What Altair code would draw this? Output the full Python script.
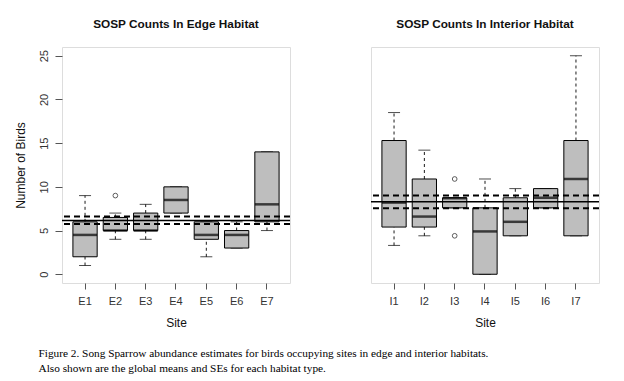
import altair as alt
import pandas as pd

# ---- Edge habitat data ----
edge_sites = ["E1", "E2", "E3", "E4", "E5", "E6", "E7"]
edge_low = [1, 4, 4, 7, 2, 3, 5]
edge_q1 = [2, 5, 5, 7, 4, 3, 6]
edge_med = [4.5, 5, 5, 8.5, 4.5, 4.5, 8]
edge_q3 = [6, 6.5, 7, 10, 6, 5, 14]
edge_high = [9, 7, 8, 10, 6, 6, 14]
edge_out_site = ["E2"]
edge_out_val = [9]
edge_mean = [6.15]
edge_se = [5.76, 6.6]

# ---- Interior habitat data ----
int_sites = ["I1", "I2", "I3", "I4", "I5", "I6", "I7"]
int_low = [3.3, 4.4, 7.6, 0, 4.4, 7.6, 4.4]
int_q1 = [5.4, 5.4, 7.6, 0, 4.4, 7.6, 4.4]
int_med = [8.2, 6.6, 8.7, 4.9, 6.0, 8.75, 10.9]
int_q3 = [15.3, 10.9, 8.75, 7.6, 8.75, 9.8, 15.3]
int_high = [18.5, 14.2, 8.75, 10.9, 9.8, 9.8, 25]
int_out_site = ["I3", "I3"]
int_out_val = [10.9, 4.4]
int_mean = [8.3]
int_se = [7.56, 9.0]

caption = [
    "Figure 2. Song Sparrow abundance estimates for birds occupying sites in edge and interior habitats.",
    "Also shown are the global means and SEs for each habitat type.",
]

FRAME = "#555555"
SANS = "Liberation Sans"


def panel(sites, low, q1, med, q3, high, out_site, out_val, mean, se, title, show_y):
    df = pd.DataFrame({"site": sites, "low": low, "q1": q1, "med": med, "q3": q3, "high": high})
    odf = pd.DataFrame({"site": out_site, "val": out_val})
    mdf = pd.DataFrame({"v": mean})
    sdf = pd.DataFrame({"v": se})

    yscale = alt.Scale(domain=[-1, 26], nice=False, zero=False)
    if show_y:
        yaxis = alt.Axis(
            values=[0, 5, 10, 15, 20, 25], title="Number of Birds", grid=False,
            labelAngle=-90, labelAlign="center", labelBaseline="bottom",
            tickSize=7, labelPadding=6, titlePadding=11, domain=False,
            tickColor=FRAME, labelColor="#333333", labelFontSize=11,
            titleFontSize=12, titleFontWeight="normal", titleColor="#111111",
            labelFont=SANS, titleFont=SANS,
        )
    else:
        yaxis = None
    xaxis = alt.Axis(
        title="Site", labelAngle=0, tickSize=6, labelPadding=6, titlePadding=11,
        domain=False, tickColor=FRAME, labelColor="#333333", labelFontSize=11,
        titleFontSize=12, titleFontWeight="normal", titleColor="#111111",
        labelFont=SANS, titleFont=SANS,
    )
    x = alt.X("site:N", sort=sites, scale=alt.Scale(paddingInner=0.2, paddingOuter=0.36), axis=xaxis)

    base = alt.Chart(df).encode(x=x)
    whisk_hi = base.mark_rule(color="black", strokeDash=[3, 3], strokeWidth=0.9).encode(
        y=alt.Y("q3:Q", scale=yscale, axis=yaxis), y2="high:Q")
    whisk_lo = base.mark_rule(color="black", strokeDash=[3, 3], strokeWidth=0.9).encode(
        y=alt.Y("low:Q", scale=yscale, axis=yaxis), y2="q1:Q")
    cap_hi = base.mark_tick(color="black", size=12, thickness=1).encode(
        y=alt.Y("high:Q", scale=yscale, axis=yaxis))
    cap_lo = base.mark_tick(color="black", size=12, thickness=1).encode(
        y=alt.Y("low:Q", scale=yscale, axis=yaxis))
    box = base.mark_bar(fill="#bebebe", stroke="black", strokeWidth=1).encode(
        y=alt.Y("q1:Q", scale=yscale, axis=yaxis), y2="q3:Q")
    medline = base.mark_tick(color="black", size=24, thickness=2.5).encode(
        y=alt.Y("med:Q", scale=yscale, axis=yaxis))
    outl = alt.Chart(odf).mark_point(shape="circle", filled=False, color="black", size=22, strokeWidth=0.9).encode(
        x=alt.X("site:N", sort=sites), y=alt.Y("val:Q", scale=yscale, axis=yaxis))
    mline = alt.Chart(mdf).mark_rule(color="black", strokeWidth=1.5).encode(
        y=alt.Y("v:Q", scale=yscale, axis=yaxis))
    sline = alt.Chart(sdf).mark_rule(color="black", strokeWidth=2, strokeDash=[6, 4]).encode(
        y=alt.Y("v:Q", scale=yscale, axis=yaxis))

    return alt.layer(whisk_hi, whisk_lo, cap_hi, cap_lo, box, medline, outl, mline, sline).properties(
        width=228, height=236,
        title=alt.TitleParams(title, fontSize=11.8, fontWeight="bold", font=SANS, color="#111111", offset=16),
    )


left = panel(edge_sites, edge_low, edge_q1, edge_med, edge_q3, edge_high,
             edge_out_site, edge_out_val, edge_mean, edge_se, "SOSP Counts In Edge Habitat", True)
right = panel(int_sites, int_low, int_q1, int_med, int_q3, int_high,
              int_out_site, int_out_val, int_mean, int_se, "SOSP Counts In Interior Habitat", False)

chart = alt.hconcat(left, right, spacing=77).properties(
    padding={"top": 10, "left": 5, "right": 5, "bottom": 5},
    title=alt.TitleParams(caption, orient="bottom", anchor="start", font="Liberation Serif",
                          fontSize=11.3, fontWeight="normal", color="black", dx=25, offset=19,
                          lineHeight=15),
).configure_view(stroke=FRAME, strokeWidth=1).configure(background="white")

chart.save("out.html", embed_options={"renderer": "svg", "actions": False})
